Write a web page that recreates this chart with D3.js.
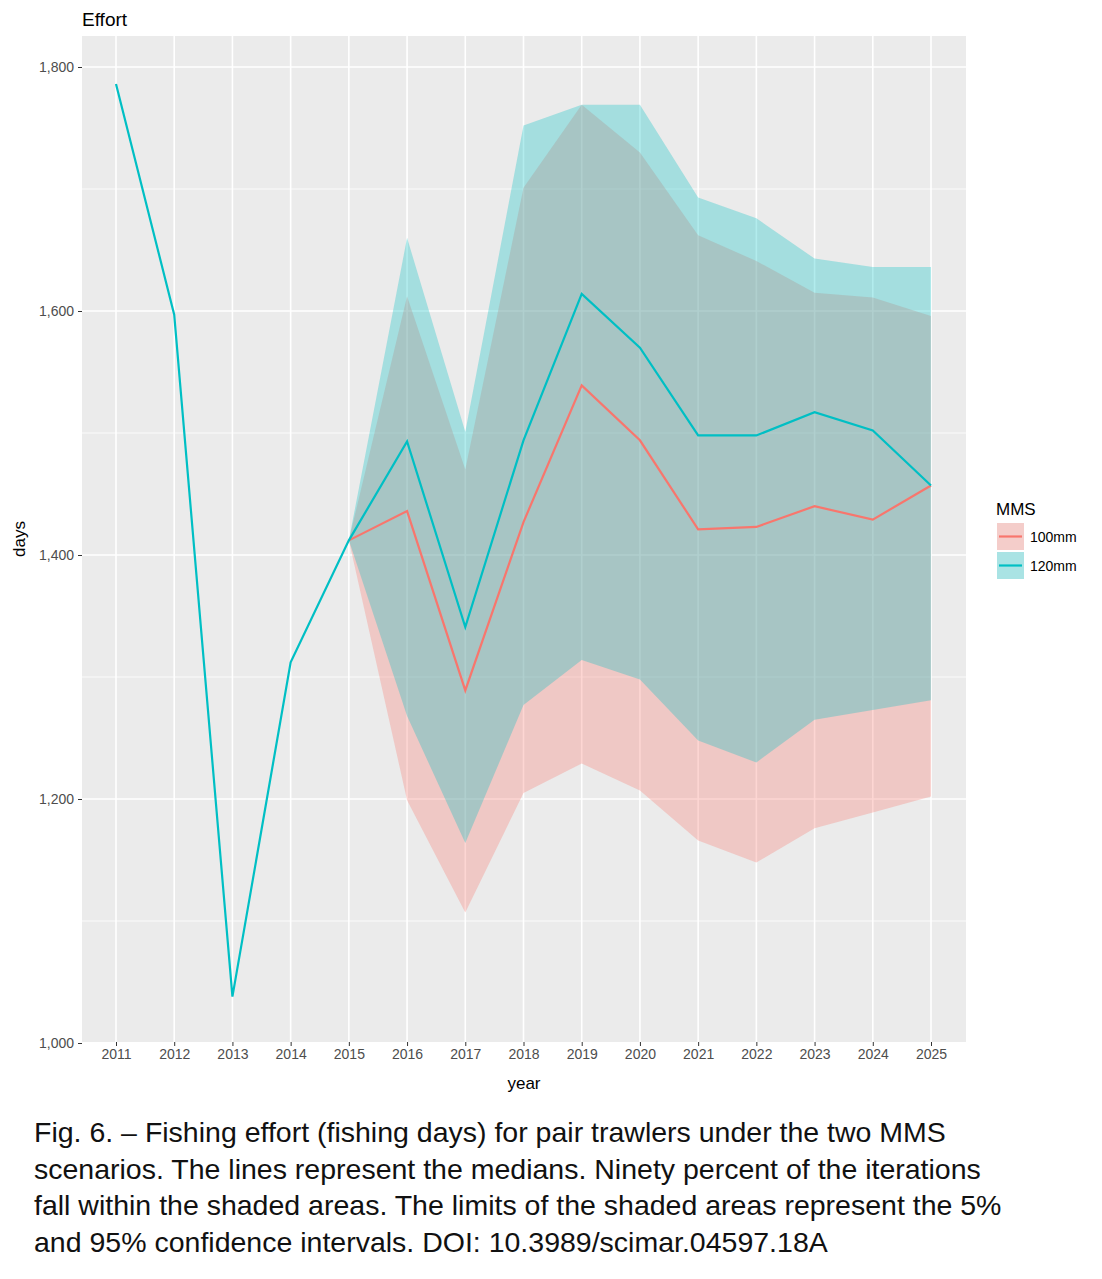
<!DOCTYPE html>
<html><head><meta charset="utf-8">
<script src="https://cdn.jsdelivr.net/npm/d3@7"></script>
<style>body{margin:0;background:#fff;font-family:"Liberation Sans",Arial,sans-serif}</style>
</head><body>
<script>
// Data
const years = [2011,2012,2013,2014,2015,2016,2017,2018,2019,2020,2021,2022,2023,2024,2025];
const hist = [1786,1597,1038,1312,1412];
const med100 = [1412,1436,1289,1427,1539,1494,1421,1423,1440,1429,1457];
const med120 = [1412,1493,1341,1494,1614,1570,1498,1498,1517,1502,1457];
const lo100 = [1412,1199,1107,1205,1229,1207,1166,1148,1176,1189,1202];
const hi100 = [1412,1612,1470,1701,1769,1730,1662,1641,1615,1611,1596];
const lo120 = [1412,1268,1164,1277,1314,1298,1248,1230,1265,1273,1281];
const hi120 = [1412,1660,1501,1752,1769,1769,1693,1676,1643,1636,1636];
const yTicks = [1000,1200,1400,1600,1800];
const yMinor = [1100,1300,1500,1700];
const proj = years.slice(4);

const W = 1102, H = 1279;
const P = {l:82, r:966, t:36, b:1042};
const col100 = "#F8766D", col120 = "#00BFC4";

const svg = d3.select('body').append('svg').attr('width', W).attr('height', H);

const x = d3.scalePoint().domain(years).range([116, 931]);
const y = d3.scaleLinear().domain([1000, 1800]).range([1043, 67]);

svg.append('rect').attr('x', P.l).attr('y', P.t).attr('width', P.r-P.l).attr('height', P.b-P.t).attr('fill', '#EBEBEB');

const grid = svg.append('g').attr('stroke', '#fff').attr('fill', 'none');
yMinor.forEach(v => grid.append('line').attr('x1', P.l).attr('x2', P.r).attr('y1', y(v)).attr('y2', y(v)).attr('stroke-width', 0.8));
yTicks.forEach(v => grid.append('line').attr('x1', P.l).attr('x2', P.r).attr('y1', y(v)).attr('y2', y(v)).attr('stroke-width', 1.6));
years.forEach(v => grid.append('line').attr('x1', x(v)).attr('x2', x(v)).attr('y1', P.t).attr('y2', P.b).attr('stroke-width', 1.6));

// ribbons
const area = (lo, hi) => d3.area().x((d, i) => x(proj[i])).y0((d, i) => y(lo[i])).y1((d, i) => y(hi[i]))(proj);
svg.append('path').attr('d', area(lo100, hi100)).attr('fill', col100).attr('fill-opacity', 0.3);
svg.append('path').attr('d', area(lo120, hi120)).attr('fill', col120).attr('fill-opacity', 0.3);

// lines
const line = d3.line().x(d => x(d[0])).y(d => y(d[1]));
svg.append('path').attr('d', line(proj.map((yr, i) => [yr, med100[i]]))).attr('fill', 'none').attr('stroke', col100).attr('stroke-width', 2.2);
svg.append('path').attr('d', line(years.slice(0,5).map((yr, i) => [yr, hist[i]]).concat(proj.slice(1).map((yr, i) => [yr, med120[i+1]]))))
  .attr('fill', 'none').attr('stroke', col120).attr('stroke-width', 2.2);

// axes
const yAxis = svg.append('g').attr('transform', `translate(${P.l},0)`)
  .call(d3.axisLeft(y).tickValues(yTicks).tickSize(4).tickPadding(4));
const xAxis = svg.append('g').attr('transform', `translate(0,${P.b})`)
  .call(d3.axisBottom(x).tickSize(4).tickPadding(3));
[xAxis, yAxis].forEach(a => {
  a.select('.domain').remove();
  a.selectAll('line').attr('stroke', '#333');
  a.selectAll('text').attr('fill', '#4D4D4D').style('font-size', '14px').style('font-family', '"Liberation Sans",Arial,sans-serif');
});

svg.append('text').attr('x', 524).attr('y', 1089).attr('text-anchor', 'middle').attr('font-size', 17).text('year');
svg.append('text').attr('transform', 'translate(25,539) rotate(-90)').attr('text-anchor', 'middle').attr('font-size', 17).text('days');
svg.append('text').attr('x', 82).attr('y', 26).attr('font-size', 19).text('Effort');

// legend
const lg = svg.append('g');
lg.append('text').attr('x', 996).attr('y', 515).attr('font-size', 17).text('MMS');
[['100mm', col100], ['120mm', col120]].forEach((d, i) => {
  const yy = 523 + i * 29;
  lg.append('rect').attr('x', 997).attr('y', yy).attr('width', 27).attr('height', 27).attr('fill', '#F2F2F2');
  lg.append('rect').attr('x', 997).attr('y', yy).attr('width', 27).attr('height', 27).attr('fill', d[1]).attr('fill-opacity', 0.3);
  lg.append('line').attr('x1', 999).attr('x2', 1022).attr('y1', yy + 13.5).attr('y2', yy + 13.5).attr('stroke', d[1]).attr('stroke-width', 2.2);
  lg.append('text').attr('x', 1030).attr('y', yy + 19).attr('font-size', 14).text(d[0]);
});

// caption
const cap = ['Fig. 6. – Fishing effort (fishing days) for pair trawlers under the two MMS',
  'scenarios. The lines represent the medians. Ninety percent of the iterations',
  'fall within the shaded areas. The limits of the shaded areas represent the 5%',
  'and 95% confidence intervals. DOI: 10.3989/scimar.04597.18A'];
cap.forEach((t, i) => svg.append('text').attr('x', 34).attr('y', 1142 + i * 36.5).attr('font-size', 28.5).attr('fill', '#111').text(t));
</script>
</body></html>
